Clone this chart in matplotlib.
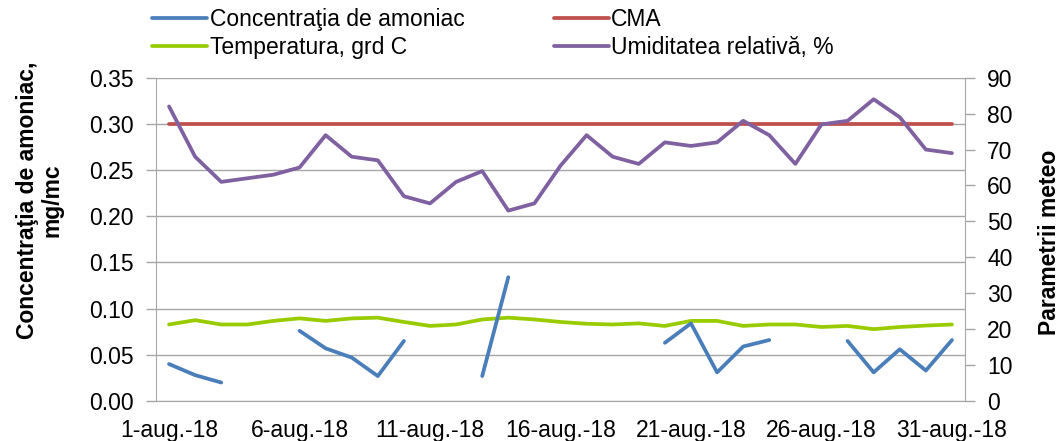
import matplotlib
matplotlib.use('Agg')
import matplotlib.pyplot as plt
from matplotlib.ticker import FixedLocator, NullFormatter

plt.rcParams['font.family'] = ['Liberation Sans', 'DejaVu Sans']

days = list(range(1, 32))
xlabels = ['1-aug.-18', '6-aug.-18', '11-aug.-18', '16-aug.-18',
           '21-aug.-18', '26-aug.-18', '31-aug.-18']
ammonia = [0.040, 0.028, 0.020, None, None, 0.076, 0.057, 0.047, 0.027, 0.065,
           None, None, 0.027, 0.134, None, None, None, None, None, 0.063,
           0.084, 0.031, 0.059, 0.066, None, None, 0.065, 0.031, 0.056, 0.033,
           0.066]
cma = [0.30, 0.30, 0.30, 0.30, 0.30, 0.30, 0.30, 0.30, 0.30, 0.30,
       0.30, 0.30, 0.30, 0.30, 0.30, 0.30, 0.30, 0.30, 0.30, 0.30,
       0.30, 0.30, 0.30, 0.30, 0.30, 0.30, 0.30, 0.30, 0.30, 0.30, 0.30]
temperature = [21.3, 22.5, 21.3, 21.3, 22.3, 23.0, 22.3, 23.0, 23.2, 22.0,
               20.9, 21.3, 22.7, 23.2, 22.7, 22.0, 21.5, 21.3, 21.6, 20.9,
               22.3, 22.3, 20.9, 21.3, 21.3, 20.6, 20.9, 20.0, 20.6, 21.0, 21.3]
humidity = [82, 68, 61, 62, 63, 65, 74, 68, 67, 57,
            55, 61, 64, 53, 55, 65.5, 74, 68, 66, 72,
            71, 72, 78, 74, 66, 77, 78, 84, 79, 70, 69]

labels = ['Concentraţia de amoniac', 'CMA', 'Temperatura, grd C',
          'Umiditatea relativă, %']
colors = {'amm': '#4A7EBB', 'cma': '#C0504D', 'temp': '#99CC00', 'hum': '#7F60A0'}

W, H = 1063, 441
fig = plt.figure(figsize=(W / 100, H / 100), dpi=100)
left, right, top, bottom = 156, 965, 77.7, 401
rect = [left / W, 1 - bottom / H, (right - left) / W, (bottom - top) / H]
ax = fig.add_axes(rect)
axr = ax.twinx()
axb = ax.twinx()

grid_c = '#A6A6A6'
lw = 2.7
fs = 16.5

xs = [d - 1 for d in days]
amm = [float('nan') if v is None else v for v in ammonia]

l_cma, = ax.plot(xs, cma, color=colors['cma'], lw=lw, solid_capstyle='round')
l_temp, = axr.plot(xs, temperature, color=colors['temp'], lw=lw, solid_capstyle='round')
l_hum, = axr.plot(xs, humidity, color=colors['hum'], lw=lw, solid_capstyle='round')
l_amm, = axb.plot(xs, amm, color=colors['amm'], lw=lw, solid_capstyle='round')

for a in (ax, axr, axb):
    a.set_xlim(-0.5, 30.5)
ax.set_ylim(0, 0.35)
axb.set_ylim(0, 0.35)
axr.set_ylim(0, 90)

ax.set_yticks([0.0, 0.05, 0.10, 0.15, 0.20, 0.25, 0.30, 0.35])
ax.set_yticklabels(['0.00', '0.05', '0.10', '0.15', '0.20', '0.25', '0.30', '0.35'])
axr.set_yticks(list(range(0, 91, 10)))
axb.set_yticks([])

ax.xaxis.set_major_locator(FixedLocator([-0.5, 4.5, 9.5, 14.5, 19.5, 24.5, 29.5]))
ax.xaxis.set_major_formatter(NullFormatter())
ax.xaxis.set_minor_locator(FixedLocator([0, 5, 10, 15, 20, 25, 30]))
ax.set_xticklabels(xlabels, minor=True)
ax.tick_params(axis='x', which='minor', length=0, labelsize=fs, pad=13)
ax.tick_params(axis='x', which='major', length=7, width=1, color=grid_c)
ax.tick_params(axis='y', length=7, width=1, color=grid_c, labelsize=fs, pad=9)
axr.tick_params(axis='y', length=7, width=1, color=grid_c, labelsize=fs, pad=9)

ax.grid(axis='y', color=grid_c, lw=1)
for a in (ax, axr, axb):
    for s in a.spines.values():
        s.set_visible(False)
ax.spines['left'].set_visible(True)
ax.spines['left'].set_color(grid_c)
ax.spines['bottom'].set_visible(True)
ax.spines['bottom'].set_color(grid_c)
axr.spines['right'].set_visible(True)
axr.spines['right'].set_color(grid_c)
axb.set_xticks([])
axb.patch.set_visible(False)
axr.patch.set_visible(False)

fig.text(40 / W, 1 - 200 / H, 'Concentraţia de amoniac,\nmg/mc', fontsize=fs,
         fontweight='bold', rotation=90, ha='center', va='center',
         multialignment='center', linespacing=1.1)
fig.text(1049 / W, 1 - 242 / H, 'Parametrii meteo', fontsize=fs,
         fontweight='bold', rotation=90, ha='center', va='center')

fig.legend([l_amm, l_temp, l_cma, l_hum],
           [labels[0], labels[2], labels[1], labels[3]],
           ncol=2, loc='upper left', bbox_to_anchor=(150 / W, 1 - 6 / H),
           frameon=False, fontsize=fs, handlelength=2.4, handletextpad=0.1,
           labelspacing=0.2, columnspacing=3.9, borderaxespad=0, borderpad=0.1)

fig.savefig('out.png', dpi=100)
